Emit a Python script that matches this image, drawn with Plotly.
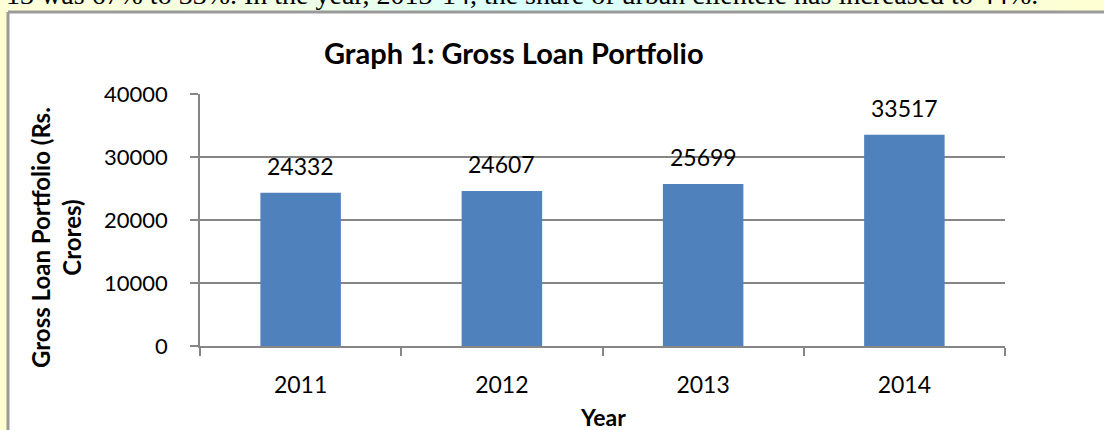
import plotly.graph_objects as go

years = ["2011", "2012", "2013", "2014"]
portfolio = [24332, 24607, 25699, 33517]
y_ticks = [0, 10000, 20000, 30000, 40000]

W, H = 1104, 430
L, R, T, B = 200, 99, 94, 84
PW = W - L - R
PH = H - T - B

def px(x):
    return (x - L) / PW

def py(y):
    return (H - B - y) / PH

FONT = "Lato"
fig = go.Figure()
fig.add_trace(go.Bar(
    x=years, y=portfolio, marker=dict(color="#4F81BD", line=dict(width=0)),
    hoverinfo="skip", showlegend=False,
))

shapes = []
# left yellow strip
shapes.append(dict(type="rect", xref="paper", yref="paper", x0=px(0), x1=px(7), y0=py(0), y1=py(H),
                   fillcolor="#FFFFD2", line=dict(width=0), layer="below"))
# top highlighted band (gradient approximated)
stops = [(0, (255, 255, 215)), (300, (240, 255, 230)), (550, (215, 255, 255)), (800, (240, 255, 230)), (1104, (255, 255, 210))]
n = 48
for i in range(n):
    xa = W * i / n
    xb = W * (i + 1) / n
    xm = (xa + xb) / 2
    for j in range(len(stops) - 1):
        if stops[j][0] <= xm <= stops[j + 1][0]:
            t = (xm - stops[j][0]) / (stops[j + 1][0] - stops[j][0])
            c = tuple(int(round(stops[j][1][k] + t * (stops[j + 1][1][k] - stops[j][1][k]))) for k in range(3))
            break
    shapes.append(dict(type="rect", xref="paper", yref="paper", x0=px(xa), x1=px(xb + 0.5), y0=py(0), y1=py(11),
                       fillcolor="rgb(%d,%d,%d)" % c, line=dict(width=0), layer="below"))
# frame border
shapes.append(dict(type="line", xref="paper", yref="paper", x0=px(8), x1=px(8), y0=py(12), y1=py(H),
                   line=dict(color="#9A9A9A", width=3), layer="below"))
shapes.append(dict(type="line", xref="paper", yref="paper", x0=px(8), x1=px(W), y0=py(12), y1=py(12),
                   line=dict(color="#9A9A9A", width=3), layer="below"))

annotations = []
annotations.append(dict(text="13 was 67% to 33%. In the year, 2013-14, the share of urban clientele has increased to 44%.",
                        xref="paper", yref="paper", x=px(4), y=py(-6), xanchor="left", yanchor="middle",
                        showarrow=False, font=dict(family="Liberation Serif", size=28, color="#000000")))
annotations.append(dict(text="<b>Graph 1: Gross Loan Portfolio</b>", xref="paper", yref="paper",
                        x=px(514), y=py(53), xanchor="center", yanchor="middle", showarrow=False,
                        font=dict(family=FONT, size=29, color="#000000")))
annotations.append(dict(text="<b>Gross Loan Portfolio (Rs.<br>Crores)</b>", xref="paper", yref="paper",
                        x=px(56), y=py(238), xanchor="center", yanchor="middle", textangle=-90, showarrow=False,
                        font=dict(family=FONT, size=24, color="#000000")))
annotations.append(dict(text="<b>Year</b>", xref="paper", yref="paper",
                        x=px(603), y=py(417), xanchor="center", yanchor="middle", showarrow=False,
                        font=dict(family=FONT, size=23, color="#000000")))
for i, v in enumerate(portfolio):
    annotations.append(dict(text=str(v), x=i, y=v, xref="x", yref="y", yshift=27, xanchor="center",
                            yanchor="middle", showarrow=False, font=dict(family=FONT, size=23, color="#000000")))

fig.update_layout(
    width=W, height=H, margin=dict(l=L, r=R, t=T, b=B, pad=0),
    paper_bgcolor="white", plot_bgcolor="white",
    shapes=shapes, annotations=annotations, bargap=0.6,
    font=dict(family=FONT, size=23, color="#000000"),
)
fig.update_xaxes(type="category", range=[-0.5, 3.5], showline=True, linecolor="#868686", linewidth=1.5,
                 ticks="outside", tickson="boundaries", ticklen=8, tickcolor="#868686", tickwidth=1.5,
                 showgrid=False, tickfont=dict(family=FONT, size=23, color="#000000"), ticklabelstandoff=18)
fig.update_yaxes(range=[0, 40000], tickvals=y_ticks, ticktext=[str(t) for t in y_ticks],
                 showline=True, linecolor="#868686", linewidth=1.5,
                 ticks="outside", ticklen=8, tickcolor="#868686", tickwidth=1.5,
                 showgrid=True, gridcolor="#868686", gridwidth=1.5, zeroline=False,
                 tickfont=dict(family=FONT, size=22, color="#000000"), ticklabelstandoff=18)

fig.write_html("out.html")
